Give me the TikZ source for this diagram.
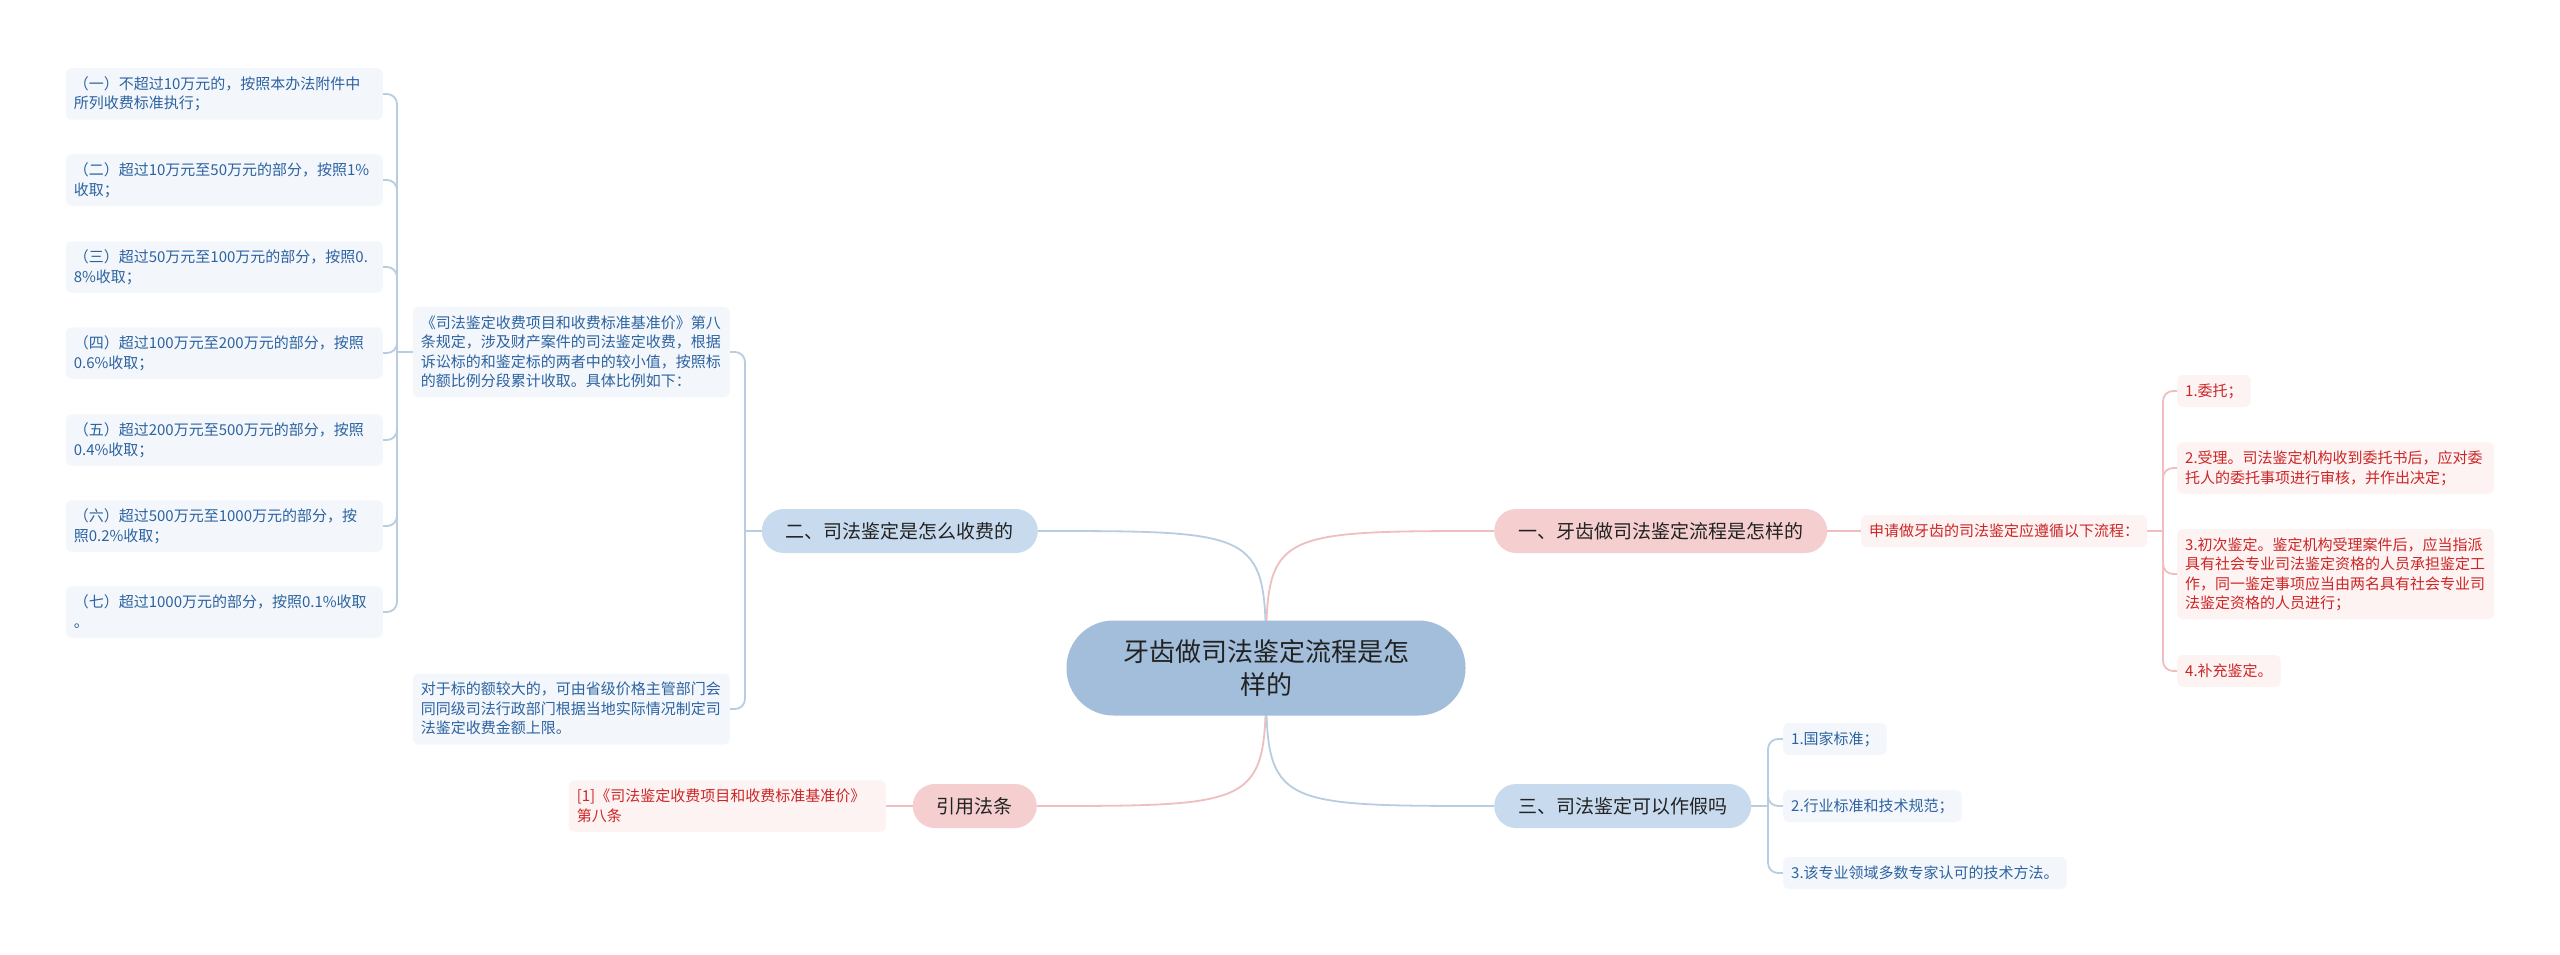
\documentclass[tikz,border=0pt]{standalone}
\usepackage{fontspec}
\setmainfont{Noto Sans CJK SC}
\usepackage{tikz}
\usetikzlibrary{positioning,calc,backgrounds}

\definecolor{rootblue}{RGB}{162,190,219}
\definecolor{branchblue}{RGB}{200,219,238}
\definecolor{branchpink}{RGB}{245,207,207}
\definecolor{leafbg}{RGB}{243,247,252}
\definecolor{leaftext}{RGB}{44,98,160}
\definecolor{pinkbg}{RGB}{253,243,243}
\definecolor{pinktext}{RGB}{204,38,38}
\definecolor{linkblue}{RGB}{184,205,226}
\definecolor{linkpink}{RGB}{240,190,190}
\definecolor{inkdark}{RGB}{34,34,34}

\newcommand{\lstrut}{\rule[-4.5pt]{0pt}{19.5pt}}

\tikzset{
  rootpill/.style={rounded corners=47pt, fill=rootblue, text=inkdark, minimum width=399pt, minimum height=95pt, align=center, font=\fontsize{26}{33}\selectfont},
  pill/.style={rounded corners=22pt, minimum height=44pt, inner xsep=24pt, inner ysep=0pt, text=inkdark, font=\fontsize{19}{23}\selectfont},
  pillblue/.style={pill, fill=branchblue},
  pillpink/.style={pill, fill=branchpink},
  leaf/.style={rounded corners=6pt, inner xsep=8pt, inner ysep=6.25pt, align=left, font=\fontsize{15}{19.5}\selectfont, execute at begin node=\lstrut, execute at end node=\lstrut},
  leafwide/.style={text width=301pt},
  leafblue/.style={leaf, fill=leafbg, text=leaftext},
  leafpink/.style={leaf, fill=pinkbg, text=pinktext},
  bluelink/.style={draw=linkblue, line width=1.8pt},
  pinklink/.style={draw=linkpink, line width=1.8pt},
}

\begin{document}
\begin{tikzpicture}[x=1pt,y=-1pt]
\useasboundingbox (0,0) rectangle (2560,955);

% centre
\node[rootpill] (root) at (1266,668) {牙齿做司法鉴定流程是怎\\样的};

% right, top: the procedure
\node[pillpink, anchor=west] (flow) at (1494,531) {一、牙齿做司法鉴定流程是怎样的};
\node[leafpink, anchor=west] (flowintro) at (1861,531) {申请做牙齿的司法鉴定应遵循以下流程：};
\coordinate (flowfork) at (2163,531);
\node[leafpink, anchor=west] (stepa) at (2177,391) {1.委托；};
\node[leafpink, leafwide, anchor=west] (stepb) at (2177,468) {2.受理。司法鉴定机构收到委托书后，应对委\\托人的委托事项进行审核，并作出决定；};
\node[leafpink, leafwide, anchor=west] (stepc) at (2177,574) {3.初次鉴定。鉴定机构受理案件后，应当指派\\具有社会专业司法鉴定资格的人员承担鉴定工\\作，同一鉴定事项应当由两名具有社会专业司\\法鉴定资格的人员进行；};
\node[leafpink, anchor=west] (stepd) at (2177,671) {4.补充鉴定。};

% right, bottom: can it be faked
\node[pillblue, anchor=west] (fake) at (1494,806) {三、司法鉴定可以作假吗};
\coordinate (fakefork) at (1768,806);
\node[leafblue, anchor=west] (basisa) at (1783,739) {1.国家标准；};
\node[leafblue, anchor=west] (basisb) at (1783,806) {2.行业标准和技术规范；};
\node[leafblue, anchor=west] (basisc) at (1783,873) {3.该专业领域多数专家认可的技术方法。};

% left, top: the fees
\node[pillblue, anchor=east] (fees) at (1038,531) {二、司法鉴定是怎么收费的};
\coordinate (feesfork) at (745,531);
\node[leafblue, leafwide, anchor=east] (feerule) at (730,352) {《司法鉴定收费项目和收费标准基准价》第八\\条规定，涉及财产案件的司法鉴定收费，根据\\诉讼标的和鉴定标的两者中的较小值，按照标\\的额比例分段累计收取。具体比例如下：};
\node[leafblue, leafwide, anchor=east] (feecap) at (730,709) {对于标的额较大的，可由省级价格主管部门会\\同同级司法行政部门根据当地实际情况制定司\\法鉴定收费金额上限。};
\coordinate (ratefork) at (397,352);
\node[leafblue, leafwide, anchor=east] (ratea) at (383,94) {（一）不超过10万元的，按照本办法附件中\\所列收费标准执行；};
\node[leafblue, leafwide, anchor=east] (rateb) at (383,180) {（二）超过10万元至50万元的部分，按照1\%\\收取；};
\node[leafblue, leafwide, anchor=east] (ratec) at (383,267) {（三）超过50万元至100万元的部分，按照0.\\8\%收取；};
\node[leafblue, leafwide, anchor=east] (rated) at (383,353) {（四）超过100万元至200万元的部分，按照\\0.6\%收取；};
\node[leafblue, leafwide, anchor=east] (ratee) at (383,440) {（五）超过200万元至500万元的部分，按照\\0.4\%收取；};
\node[leafblue, leafwide, anchor=east] (ratef) at (383,526) {（六）超过500万元至1000万元的部分，按\\照0.2\%收取；};
\node[leafblue, leafwide, anchor=east] (rateg) at (383,612) {（七）超过1000万元的部分，按照0.1\%收取\\。};

% left, bottom: cited law
\node[pillpink, anchor=east] (law) at (1037,806) {引用法条};
\node[leafpink, leafwide, anchor=east] (lawref) at (886,806) {[1]《司法鉴定收费项目和收费标准基准价》\\第八条};

\begin{pgfonlayer}{background}
  \fill[white] (0,0) rectangle (2560,955);
  % main branches
  \draw[bluelink] (root.center) .. controls (root.center |- fees.east) .. (fees.east);
  \draw[pinklink] (root.center) .. controls (root.center |- flow.west) .. (flow.west);
  \draw[pinklink] (root.center) .. controls (root.center |- law.east) .. (law.east);
  \draw[bluelink] (root.center) .. controls (root.center |- fake.west) .. (fake.west);
  % forks
  \draw[pinklink] (flow.east) -- (flowintro.west);
  \draw[pinklink] (flowintro.east) -- (flowfork);
  \foreach \k in {stepa,stepb,stepc,stepd}
    \draw[pinklink, rounded corners=10pt] (flowfork) |- (\k.west);
  \draw[bluelink] (fake.east) -- (fakefork);
  \foreach \k in {basisa,basisb,basisc}
    \draw[bluelink, rounded corners=10pt] (fakefork) |- (\k.west);
  \draw[bluelink] (fees.west) -- (feesfork);
  \foreach \k in {feerule,feecap}
    \draw[bluelink, rounded corners=10pt] (feesfork) |- (\k.east);
  \draw[bluelink] (feerule.west) -- (ratefork);
  \foreach \k in {ratea,rateb,ratec,rated,ratee,ratef,rateg}
    \draw[bluelink, rounded corners=10pt] (ratefork) |- (\k.east);
  \draw[pinklink] (law.west) -- (lawref.east);
\end{pgfonlayer}
\end{tikzpicture}
\end{document}
